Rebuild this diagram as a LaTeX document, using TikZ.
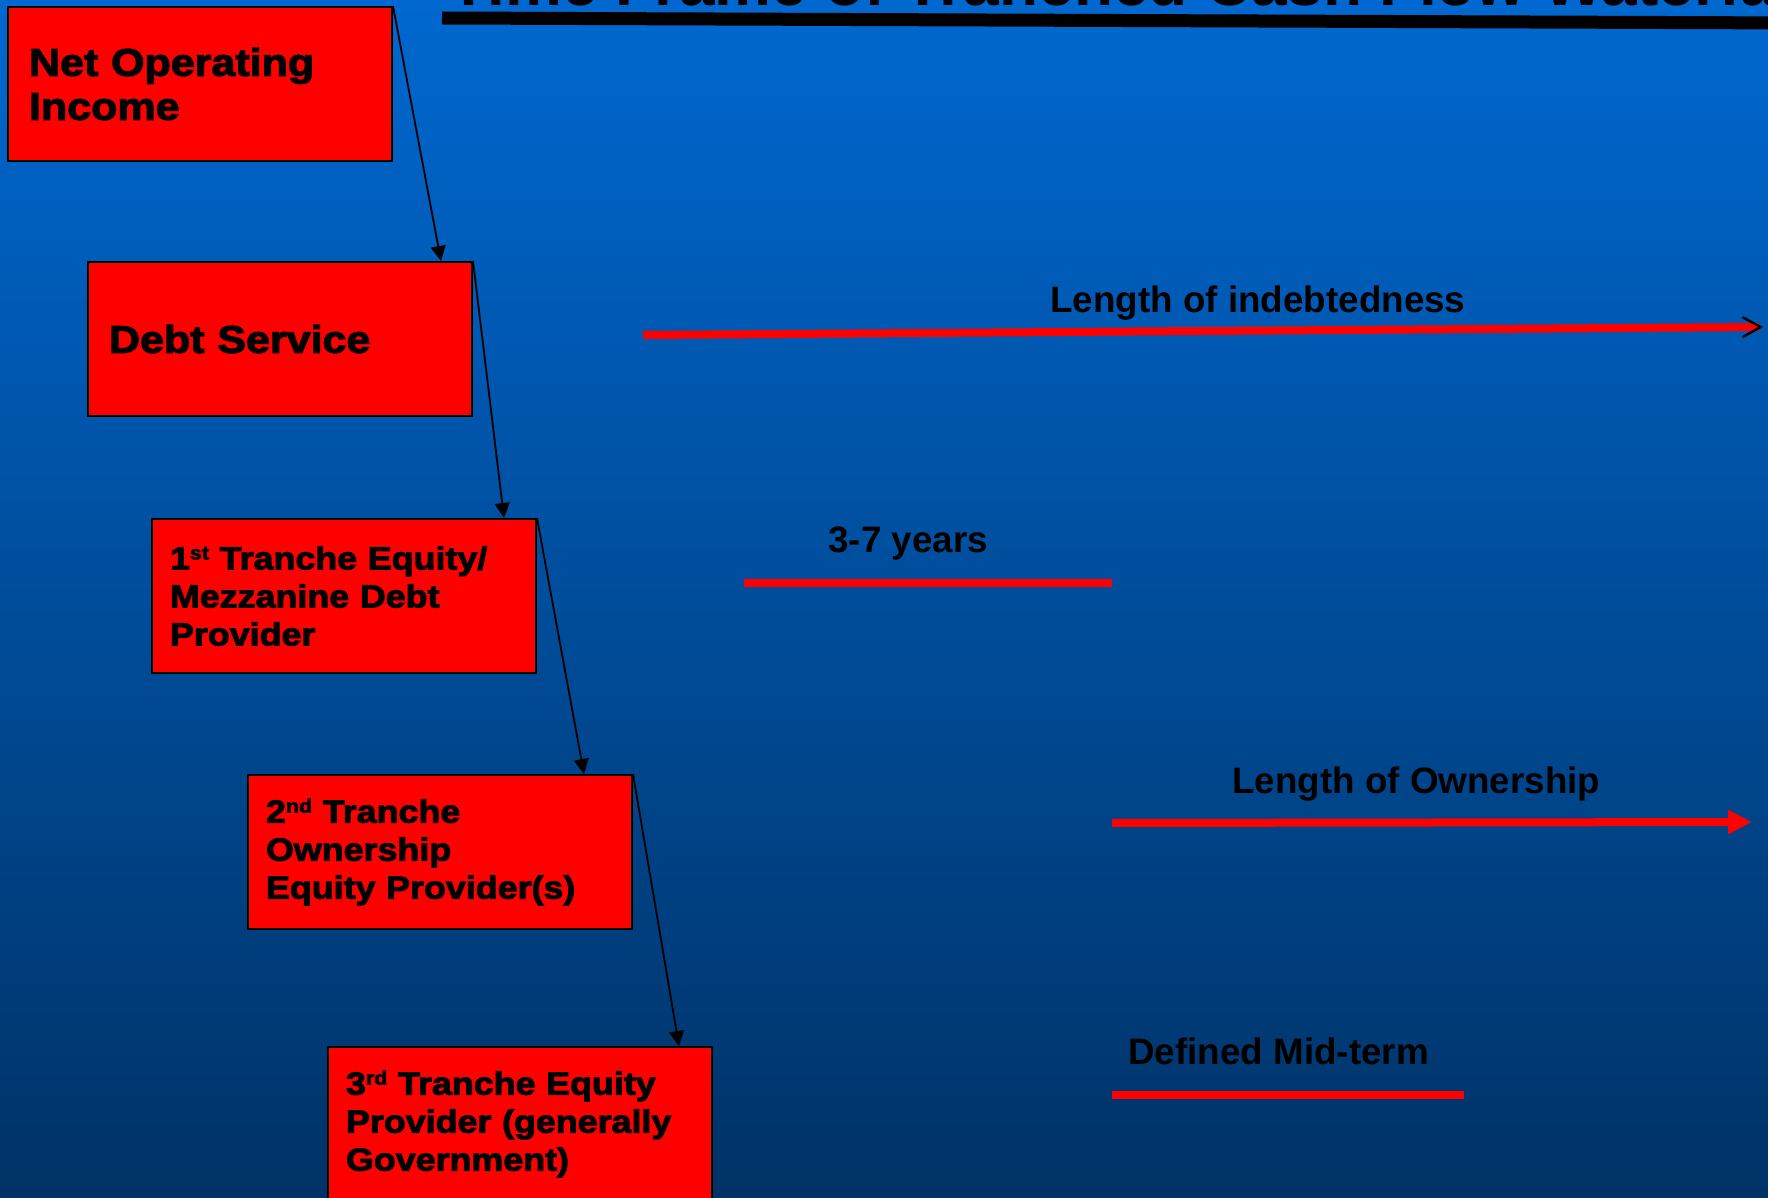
\documentclass[tikz,border=0pt]{standalone}
\usepackage{fontspec}
\setmainfont{Liberation Sans}
\newfontfamily\heavyfont{Liberation Sans Bold}[FakeStretch=1.12,FakeBold=3]
\usetikzlibrary{arrows.meta}

\definecolor{skytop}{RGB}{0,104,208}
\definecolor{skybottom}{RGB}{0,50,102}
\newcommand\ordsup[1]{\raisebox{5pt}{\fontsize{9.6}{9.6}\selectfont #1}}

\tikzset{
  tranche/.style={draw=black, line width=1pt, fill=red, minimum width=192pt, minimum height=77pt, inner ysep=0pt, align=left},
  bigtext/.style={text width=171pt, inner xsep=10.5pt, font=\heavyfont\fontsize{19.2}{22}\selectfont},
  smalltext/.style={text width=174pt, inner xsep=9pt, font=\heavyfont\fontsize{16}{19}\selectfont},
  flow/.style={line width=0.9pt, -{Triangle[length=7.5pt,width=7.5pt]}},
  periodline/.style={red, line width=4pt},
  periodlabel/.style={anchor=base west, inner sep=0pt, font=\bfseries\fontsize{18.4}{22}\selectfont}
}

\begin{document}
\begin{tikzpicture}[x=0.5pt, y=-0.5pt]
\useasboundingbox (0,0) rectangle (1768,1198);
\clip (0,0) rectangle (1768,1198);

%Background
\shade[top color=skytop, bottom color=skybottom] (0,0) rectangle (1768,1198);

%Title
\node[anchor=base west, inner sep=0pt, font=\bfseries\fontsize{32}{36}\selectfont] (title) at (449,6) {Time Frame of Tranched Cash Flow Waterfall};
\draw[line width=6.5pt] (442,18) -- (1800,23);

%Tranches
\node[tranche, bigtext] (noi) at (200,84) {Net Operating\\Income};
\node[tranche, bigtext] (debt) at (280,339) {Debt Service};
\node[tranche, smalltext] (first) at (344,596) {1\ordsup{st} Tranche Equity/\\Mezzanine Debt\\Provider};
\node[tranche, smalltext] (second) at (440,852) {2\ordsup{nd} Tranche\\Ownership\\Equity Provider(s)};
\node[tranche, smalltext] (third) at (520,1124) {3\ordsup{rd} Tranche Equity\\Provider (generally\\Government)};

\draw[flow] (noi.north east) -- ([xshift=-16pt]debt.north east);
\draw[flow] (debt.north east) -- ([xshift=-16.5pt]first.north east);
\draw[flow] (first.north east) -- ([xshift=-24.5pt]second.north east);
\draw[flow] (second.north east) -- ([xshift=-17pt]third.north east);

%Periods
\coordinate (debtstart) at (643,335);
\coordinate (debtend) at (1763,327);
\draw[periodline, -{Straight Barb[color=black, line width=1.2pt, length=9pt, width=10pt]}] (debtstart) -- (debtend);
\node[periodlabel] (debtlabel) at (1050,313) {Length of indebtedness};

\coordinate (yearsstart) at (744,583);
\coordinate (yearsend) at (1112,583);
\draw[periodline] (yearsstart) -- (yearsend);
\node[periodlabel] (yearslabel) at (828,552) {3-7 years};

\coordinate (ownstart) at (1112,823);
\coordinate (ownend) at (1752,822);
\draw[periodline, -{Triangle[length=12pt, width=11.5pt]}] (ownstart) -- (ownend);
\node[periodlabel] (ownlabel) at (1232,793) {Length of Ownership};

\coordinate (midstart) at (1112,1095);
\coordinate (midend) at (1464,1095);
\draw[periodline] (midstart) -- (midend);
\node[periodlabel] (midlabel) at (1128,1064) {Defined Mid-term};
\end{tikzpicture}
\end{document}
